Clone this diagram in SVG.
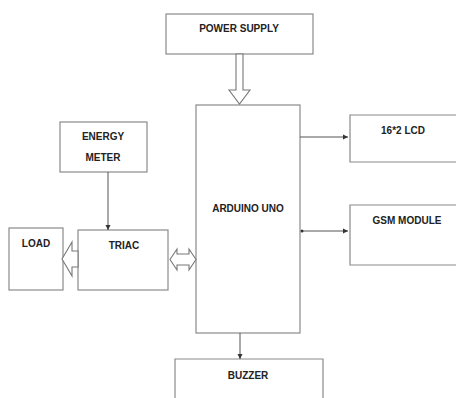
<svg xmlns="http://www.w3.org/2000/svg" width="456" height="398" viewBox="0 0 456 398">
<defs>
<style>
.box{fill:#fff;stroke:#8a8a8a;stroke-width:1.2}
.t{font-family:"Liberation Sans",Arial,sans-serif;font-weight:bold;font-size:10px;fill:#222;text-anchor:middle}
.ln{stroke:#555;stroke-width:1;fill:none}
.ha{fill:#fff;stroke:#777;stroke-width:1.1}
</style>
<marker id="ah" markerWidth="6" markerHeight="6" refX="5" refY="3" orient="auto" markerUnits="userSpaceOnUse">
<path d="M0,0.5 L5,3 L0,5.5 Z" fill="#333"/>
</marker>
</defs>
<rect width="456" height="398" fill="#fff"/>
<g id="power">
<rect class="box" x="166" y="14" width="147" height="40"/>
<text class="t" x="239" y="32">POWER SUPPLY</text>
</g>
<g id="arduino">
<rect class="box" x="196" y="105" width="104" height="228"/>
<text class="t" x="248" y="212">ARDUINO UNO</text>
</g>
<g id="lcd">
<path class="box" d="M456,115 H350 V162 H456"/>
<text class="t" x="403" y="134">16*2 LCD</text>
</g>
<g id="gsm">
<path class="box" d="M456,205 H350 V265 H456"/>
<text class="t" x="407" y="224">GSM MODULE</text>
</g>
<g id="energy">
<rect class="box" x="60" y="122" width="87" height="50"/>
<text class="t" x="103" y="140">ENERGY</text>
<text class="t" x="103" y="161">METER</text>
</g>
<g id="triac">
<rect class="box" x="78" y="230" width="90" height="60"/>
<text class="t" x="124" y="249">TRIAC</text>
</g>
<g id="load">
<rect class="box" x="9" y="228" width="54" height="62"/>
<text class="t" x="36" y="247">LOAD</text>
</g>
<g id="buzzer">
<path class="box" d="M175,398 V359 H323 V398"/>
<text class="t" x="248" y="379">BUZZER</text>
</g>
<g id="connectors">
<path class="ha" d="M236,54 H243 V90 H250 L239.5,104 L229,90 H236 Z"/>
<line class="ln" x1="108" y1="172" x2="108" y2="230" marker-end="url(#ah)"/>
<line class="ln" x1="300" y1="137" x2="348" y2="137" marker-end="url(#ah)"/>
<line class="ln" x1="302" y1="231" x2="348" y2="231" marker-end="url(#ah)"/>
<circle cx="302" cy="231" r="1.5" fill="#333"/>
<line class="ln" x1="240" y1="333" x2="240" y2="359" marker-end="url(#ah)"/>
<path class="ha" d="M78,251 H72 V242 L62,259 L72,276 V267 H78 Z"/>
<path class="ha" d="M170,259.5 L177,249 V254 H189 V249 L196,259.5 L189,270 V265 H177 V270 Z"/>
</g>
</svg>
